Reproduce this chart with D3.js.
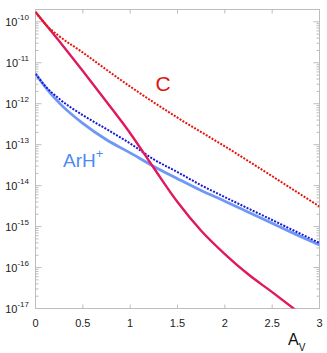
<!DOCTYPE html>
<html>
<head>
<meta charset="utf-8">
<script src="https://cdn.jsdelivr.net/npm/d3@7"></script>
<style>
  body { margin: 0; background: #fff; }
  svg { display: block; font-family: "Liberation Sans", Arial, sans-serif; }
</style>
</head>
<body>
<div id="chart"></div>
<script>
// extinction A_V grid and abundances
var avRedSolid = [0, 0.25, 0.5, 0.75, 1, 1.25, 1.5, 1.75, 2, 2.25, 2.5, 2.75]
var redSolid = [1.74e-10, 3.39e-11, 6.31e-12, 1.12e-12, 1.91e-13, 2.69e-14, 3.98e-15, 7.94e-16, 2.14e-16, 6.76e-17, 2.51e-17, 9.1e-18]

var avCarbon = [0, 0.1, 0.25, 0.5, 0.75, 1, 1.5, 2, 2.5, 3]
var carbon = [1.74e-10, 8.9e-11, 4.47e-11, 1.78e-11, 6.76e-12, 2.63e-12, 4.57e-13, 9.12e-14, 1.70e-14, 3.09e-15]

var avBlueDot = [0, 0.1, 0.25, 0.5, 0.75, 1, 1.25, 1.5, 1.75, 2, 2.25, 2.5, 2.75, 3]
var blueDot = [5.37e-12, 2.75e-12, 1.32e-12, 5.25e-13, 2.40e-13, 1.07e-13, 4.37e-14, 2.14e-14, 1.02e-14, 5.25e-15, 2.75e-15, 1.45e-15, 7.59e-16, 3.98e-16]

var avArH = [0, 0.1, 0.25, 0.5, 0.75, 1, 1.25, 1.5, 1.75, 2, 2.25, 2.5, 2.75, 3]
var arh = [5.37e-12, 2.63e-12, 1.05e-12, 3.31e-13, 1.32e-13, 6.31e-14, 2.95e-14, 1.48e-14, 7.59e-15, 4.17e-15, 2.24e-15, 1.20e-15, 6.46e-16, 3.55e-16]

var xTicks = [0, 0.5, 1, 1.5, 2, 2.5, 3]
var xTickLabels = ["0", "0.5", "1", "1.5", "2", "2.5", "3"]
var yDecades = [-17, -16, -15, -14, -13, -12, -11, -10]

var width = 327, height = 353
var margin = {top: 9.5, right: 7.5, bottom: 44.5, left: 35.5}

var svg = d3.select("#chart").append("svg")
  .attr("width", width)
  .attr("height", height)

var x = d3.scaleLinear()
  .domain([0, 3])
  .range([margin.left, width - margin.right])

var y = d3.scaleLog()
  .domain([1e-17, 2e-10])
  .range([height - margin.bottom, margin.top])

svg.append("clipPath").attr("id", "plotclip")
  .append("rect")
    .attr("x", x(0)).attr("y", y(2e-10))
    .attr("width", x(3) - x(0)).attr("height", y(1e-17) - y(2e-10))

// axis frame
var axisColor = "#bdbdbd"
svg.append("rect")
  .attr("x", x(0)).attr("y", y(2e-10))
  .attr("width", x(3) - x(0)).attr("height", y(1e-17) - y(2e-10))
  .attr("fill", "none")
  .attr("stroke", axisColor)
  .attr("stroke-width", 1)

var ticks = svg.append("g").attr("stroke", axisColor).attr("stroke-width", 1)

// x ticks, inward on bottom and top
xTicks.slice(1, -1).forEach(function(t) {
  ticks.append("line").attr("x1", x(t)).attr("x2", x(t))
    .attr("y1", y(1e-17)).attr("y2", y(1e-17) - 4)
  ticks.append("line").attr("x1", x(t)).attr("x2", x(t))
    .attr("y1", y(2e-10)).attr("y2", y(2e-10) + 4)
})

// y log ticks, inward on left and right
var yMinor = []
yDecades.forEach(function(e) {
  for (var m = 1; m < 10; m++) {
    var v = m * Math.pow(10, e)
    if (v <= 2e-10) yMinor.push({v: v, major: m === 1})
  }
})
yMinor.forEach(function(d) {
  var len = d.major ? 6 : 3
  ticks.append("line").attr("x1", x(0)).attr("x2", x(0) + len)
    .attr("y1", y(d.v)).attr("y2", y(d.v))
  ticks.append("line").attr("x1", x(3)).attr("x2", x(3) - len)
    .attr("y1", y(d.v)).attr("y2", y(d.v))
})

// tick labels
svg.append("g")
  .selectAll("text")
  .data(xTicks)
  .join("text")
    .attr("x", d => x(d))
    .attr("y", 327)
    .attr("text-anchor", "middle")
    .attr("font-size", 11)
    .attr("fill", "#222")
    .text((d, i) => xTickLabels[i])

var yl = svg.append("g")
  .selectAll("text")
  .data(yDecades)
  .join("text")
    .attr("x", 29)
    .attr("y", d => y(Math.pow(10, d)) + 4)
    .attr("text-anchor", "end")
    .attr("font-size", 11)
    .attr("fill", "#222")
yl.append("tspan").text("10")
yl.append("tspan").attr("font-size", 8).attr("dy", -6).text(d => "-" + (-d))

// axis title A_V
var av = svg.append("text")
  .attr("x", 288)
  .attr("y", 345)
  .attr("font-size", 16)
  .attr("fill", "#111")
av.append("tspan").text("A")
av.append("tspan").attr("font-size", 10).attr("dy", 6).text("V")

// curves
var line = d3.line()
  .x(d => x(d[0]))
  .y(d => y(d[1]))
  .curve(d3.curveMonotoneX)

var plot = svg.append("g").attr("clip-path", "url(#plotclip)")

plot.append("path")
  .datum(d3.zip(avArH, arh))
  .attr("fill", "none")
  .attr("stroke", "#6f97f6")
  .attr("stroke-width", 2.8)
  .attr("d", line)

plot.append("path")
  .datum(d3.zip(avBlueDot, blueDot))
  .attr("fill", "none")
  .attr("stroke", "#1616dc")
  .attr("stroke-width", 2)
  .attr("stroke-dasharray", "2,1.4")
  .attr("d", line)

plot.append("path")
  .datum(d3.zip(avRedSolid, redSolid))
  .attr("fill", "none")
  .attr("stroke", "#e0195c")
  .attr("stroke-width", 2.4)
  .attr("d", line)

plot.append("path")
  .datum(d3.zip(avCarbon, carbon))
  .attr("fill", "none")
  .attr("stroke", "#e8140f")
  .attr("stroke-width", 2)
  .attr("stroke-dasharray", "2,1.4")
  .attr("d", line)

// species labels
svg.append("text")
  .attr("x", 163)
  .attr("y", 91)
  .attr("text-anchor", "middle")
  .attr("font-size", 21)
  .attr("fill", "#e0140f")
  .text("C")

var arhLabel = svg.append("text")
  .attr("x", 63)
  .attr("y", 167)
  .attr("font-size", 19)
  .attr("fill", "#4d8bf3")
arhLabel.append("tspan").text("ArH")
arhLabel.append("tspan").attr("font-size", 13).attr("dy", -9).text("+")
</script>
</body>
</html>
